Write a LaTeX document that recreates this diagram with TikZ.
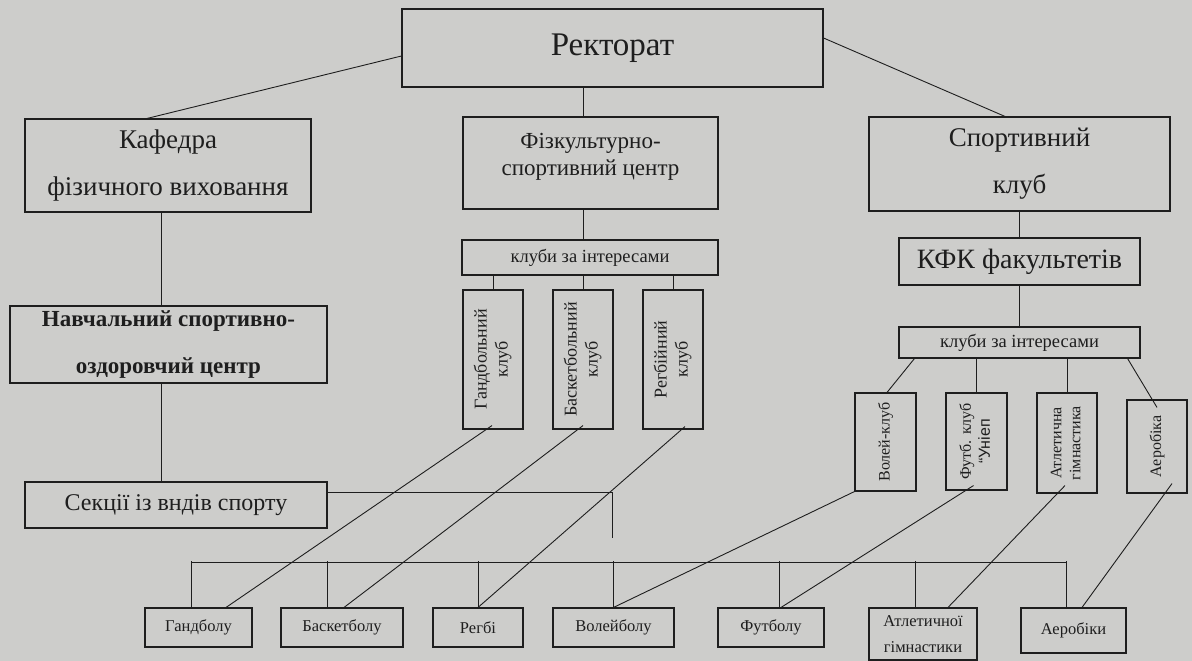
\documentclass[tikz,border=0pt]{standalone}
\usepackage{fontspec}
\usepackage{graphicx}
\setmainfont{Liberation Serif}
\newfontfamily\sansfnt{Liberation Sans}
\usetikzlibrary{positioning}

\definecolor{paper}{RGB}{205,205,203}
\definecolor{ink}{RGB}{30,30,30}

\begin{document}
\begin{tikzpicture}[x=1pt,y=-1pt,
	box/.style={draw=ink,line width=1.1pt,fill=paper,inner sep=0pt,align=center,text=ink},
	link/.style={draw=ink,line width=0.9pt},
	head/.style={box,font=\fontsize{27}{47}\selectfont},
	vclub/.style={box,font=\fontsize{18}{21}\selectfont},
	rclub/.style={box,font=\fontsize{16}{19}\selectfont},
	sect/.style={box,font=\fontsize{16.5}{26}\selectfont}]

	\fill[paper] (0,0) rectangle (1192,661);
	\useasboundingbox (0,0) rectangle (1192,661);

	% upper level
	\node[box,minimum width=421,minimum height=78,font=\fontsize{33}{36}\selectfont] (rect) at (612.5,48) {Ректорат};
	\node[head,minimum width=286,minimum height=93] (kaf) at (168,165.5) {Кафедра\\фізичного виховання};
	\node[box,minimum width=255,minimum height=92,font=\fontsize{23}{27}\selectfont] (fiz) at (590.5,163) {Фізкультурно-\\спортивний центр\\[-10pt]\mbox{}};
	\node[head,minimum width=301,minimum height=94] (sport) at (1019.5,164) {Спортивний\\клуб};

	% left column
	\node[box,minimum width=317,minimum height=77,font=\bfseries\fontsize{23}{47}\selectfont] (navch) at (168.5,344.5) {Навчальний спортивно-\\оздоровчий центр};
	\node[box,minimum width=302,minimum height=46,font=\fontsize{24}{26}\selectfont] (sek) at (176,505) {Секції із вндів спорту};

	% middle column
	\node[box,minimum width=256,minimum height=35,font=\fontsize{18.5}{20}\selectfont] (klm) at (590,257.5) {клуби за інтересами};
	\node[vclub,minimum width=60,minimum height=139] (gand) at (493,359.5) {\rotatebox{90}{\begin{tabular}{@{}c@{}}Гандбольний\\клуб\end{tabular}}};
	\node[vclub,minimum width=60,minimum height=139] (bask) at (583,359.5) {\rotatebox{90}{\begin{tabular}{@{}c@{}}Баскетбольний\\клуб\end{tabular}}};
	\node[vclub,minimum width=60,minimum height=139] (regb) at (673,359.5) {\rotatebox{90}{\begin{tabular}{@{}c@{}}Регбійний\\клуб\end{tabular}}};

	% right column
	\node[box,minimum width=241,minimum height=47,font=\fontsize{28}{30}\selectfont] (kfk) at (1019.5,261.5) {КФК факультетів};
	\node[box,minimum width=241,minimum height=31,font=\fontsize{18.5}{20}\selectfont] (klr) at (1019.5,342.5) {клуби за інтересами};
	\node[rclub,minimum width=61,minimum height=98] (vol) at (885.5,442) {\rotatebox{90}{Волей-клуб}};
	\node[rclub,minimum width=61,minimum height=97] (futb) at (976.5,441.5) {\rotatebox{90}{\begin{tabular}{@{}c@{}}Футб. клуб\\{\sansfnt “Уніеп}\end{tabular}}};
	\node[rclub,minimum width=60,minimum height=100] (atl) at (1067,443) {\rotatebox{90}{\begin{tabular}{@{}c@{}}Атлетична\\гімнастика\end{tabular}}};
	\node[rclub,minimum width=60,minimum height=93] (aer) at (1157,446.5) {\rotatebox{90}{Аеробіка}};

	% sections row
	\node[sect,minimum width=107,minimum height=39] (bgand) at (198.5,627.5) {Гандболу};
	\node[sect,minimum width=122,minimum height=39] (bbask) at (342,627.5) {Баскетболу};
	\node[sect,minimum width=90,minimum height=39] (bregb) at (478,627.5) {Регбі};
	\node[sect,minimum width=121,minimum height=39] (bvol) at (613.5,627.5) {Волейболу};
	\node[sect,minimum width=106,minimum height=39] (bfut) at (771,627.5) {Футболу};
	\node[sect,minimum width=108,minimum height=52] (batl) at (923,634) {Атлетичної\\гімнастики};
	\node[sect,minimum width=105,minimum height=45] (baer) at (1073.5,630.5) {Аеробіки};

	% links from the top
	\draw[link] ([yshift=-8]rect.west) -- ([xshift=-21]kaf.north);
	\draw[link] ([yshift=10]rect.east) -- ([xshift=-14.5]sport.north);
	\draw[link] ([xshift=-7.5]fiz.north) -- ++(0,-30);
	\draw[link] ([xshift=-7.5]fiz.south) -- ([xshift=-7]klm.north);
	\draw[link] ([xshift=-7]kaf.south) -- ([xshift=-7.5]navch.north);
	\draw[link] ([xshift=-7.5]navch.south) -- ([xshift=-15]sek.north);
	\draw[link] (sport) -- (kfk);
	\draw[link] (kfk) -- (klr);

	\foreach \n in {gand,bask,regb}
		\draw[link] (\n.north) -- ++(0,-15);
	\draw[link] ([xshift=16]klr.south west) -- ([xshift=1.5]vol.north);
	\draw[link] (futb.north) -- ++(0,-35);
	\draw[link] (atl.north) -- ++(0,-35);
	\draw[link] ([xshift=-13]klr.south east) -- ([yshift=-8]aer.north);

	% sections bus
	\coordinate (sekEnd) at (612,538);
	\draw[link] ([yshift=13]sek.east) -| (sekEnd);
	\coordinate (busL) at (191,562);
	\coordinate (busR) at (1066,562);
	\draw[link] (busL) -- (busR);
	\foreach \n/\dx in {bgand/-7.5,bbask/-15,bregb/0,bvol/0,bfut/8,batl/-8,baer/-7.5}
		\draw[link] ([xshift=\dx]\n.north) -- ++(0,-46);

	% clubs to sections
	\draw[link] ([xshift=-1,yshift=4]gand.south) -- ([xshift=27.5]bgand.north);
	\draw[link] ([yshift=4]bask.south) -- ([xshift=2]bbask.north);
	\draw[link] ([xshift=12,yshift=3]regb.south) -- (bregb.north);
	\draw[link] (vol.south west) -- (bvol.north);
	\draw[link] ([xshift=-3,yshift=5]futb.south) -- ([xshift=10]bfut.north);
	\draw[link] ([xshift=-2,yshift=8]atl.south) -- ([xshift=25]batl.north);
	\draw[link] ([xshift=15,yshift=10]aer.south) -- ([xshift=8.5]baer.north);
\end{tikzpicture}
\end{document}
